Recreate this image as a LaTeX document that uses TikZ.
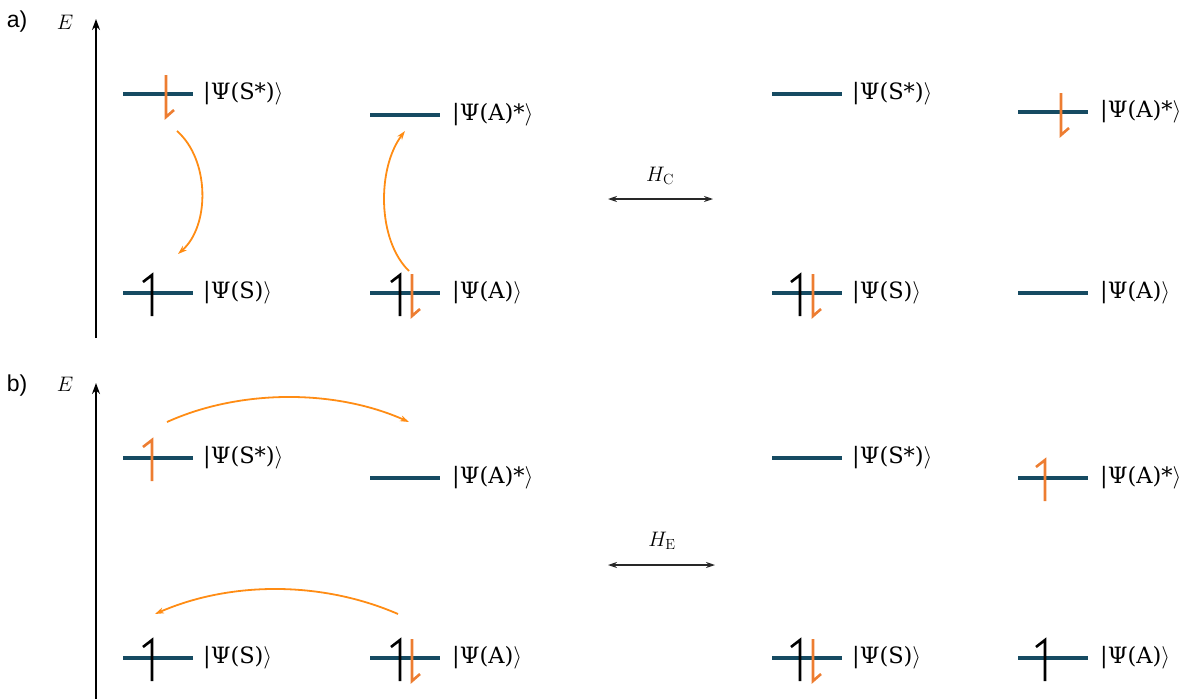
\RequirePackage{fix-cm}
\documentclass[tikz,border=0pt]{standalone}
\usepackage{fontspec}
\usetikzlibrary{arrows.meta}
\newfontfamily\sansf{Liberation Sans}
\newfontfamily\labf{DejaVu Serif}
\definecolor{lev}{RGB}{22,75,98}
\definecolor{spinor}{RGB}{237,125,49}
\definecolor{arcor}{RGB}{255,140,20}
\definecolor{harr}{RGB}{40,40,40}
\tikzset{
  levelline/.style={draw=lev, line width=3.6pt},
  lab/.style={anchor=west, inner sep=0pt, font=\labf\fontsize{22.5}{27}\selectfont},
  spinline/.style={line width=2.6pt, line join=miter, line cap=butt},
  axisline/.style={line width=1.8pt, -{Stealth[length=11pt,width=8pt]}},
  harrow/.style={draw=harr, line width=1.2pt, {Stealth[length=9pt,width=6pt]}-{Stealth[length=9pt,width=6pt]}},
  arcline/.style={draw=arcor, line width=1.8pt, -{Stealth[length=9pt,width=6pt]}},
  panel/.style={font=\sansf\fontsize{23}{27}\selectfont, inner sep=0pt},
  elab/.style={font=\fontsize{21}{25}\selectfont, inner sep=0pt},
  hlab/.style={font=\fontsize{21}{25}\selectfont, inner sep=0pt}
}
% spin half-arrows: x, y of level, colour
\newcommand\spinupp[3]{\draw[spinline,draw=#3] (#1,#2+23) -- (#1,#2-18) -- ++(-9,7);}
\newcommand\spindownn[3]{\draw[spinline,draw=#3] (#1,#2-19) -- (#1,#2+23) -- ++(8,-7);}
\newcommand\ket[1]{|#1$\rangle$}
\begin{document}
\begin{tikzpicture}[x=1pt,y=-1pt]
\useasboundingbox (0,0) rectangle (1187,699);

% ---------- panel a ----------
\node[panel] (pa) at (17,22) {a)};
\node[elab] (ea) at (65,22) {$E$};
\coordinate (axa0) at (96,338);
\coordinate (axa1) at (96,19);
\draw[axisline] (axa0) -- (axa1);

% levels a
\draw[levelline] (123,94) -- ++(70,0) coordinate (a1s);
\node[lab] (la1s) at (203,94) {\ket{Ψ(S*)}};
\draw[levelline] (123,293) -- ++(70,0) coordinate (a1g);
\node[lab] (la1g) at (203,293) {\ket{Ψ(S)}};
\draw[levelline] (370,115) -- ++(70,0) coordinate (a2s);
\node[lab] (la2s) at (452,115) {\ket{Ψ(A)*}};
\draw[levelline] (370,293) -- ++(70,0) coordinate (a2g);
\node[lab] (la2g) at (452,293) {\ket{Ψ(A)}};
\draw[levelline] (772,94) -- ++(70,0) coordinate (a3s);
\node[lab] (la3s) at (852,94) {\ket{Ψ(S*)}};
\draw[levelline] (772,293) -- ++(70,0) coordinate (a3g);
\node[lab] (la3g) at (852,293) {\ket{Ψ(S)}};
\draw[levelline] (1018,112) -- ++(70,0) coordinate (a4s);
\node[lab] (la4s) at (1100,112) {\ket{Ψ(A)*}};
\draw[levelline] (1018,293) -- ++(70,0) coordinate (a4g);
\node[lab] (la4g) at (1100,293) {\ket{Ψ(A)}};

% spins a
\spindownn{166}{94}{spinor}
\spinupp{152}{293}{black}
\spinupp{400}{293}{black}
\spindownn{412}{293}{spinor}
\spinupp{800}{293}{black}
\spindownn{813}{293}{spinor}
\spindownn{1061}{112}{spinor}

% arcs a
\coordinate (c1a) at (177,131);
\coordinate (c1b) at (178,254);
\draw[arcline] (c1a) .. controls (210,160) and (210,226) .. (c1b);
\coordinate (c2a) at (409,271);
\coordinate (c2b) at (405,131);
\draw[arcline] (c2a) .. controls (377,240) and (377,168) .. (c2b);

% H_C
\coordinate (hca) at (608,199);
\coordinate (hcb) at (713,199);
\draw[harrow] (hca) -- (hcb);
\node[hlab] (hc) at (660,176) {$H_{\mathrm{C}}$};

% ---------- panel b ----------
\node[panel] (pb) at (17,386) {b)};
\node[elab] (eb) at (65,384) {$E$};
\coordinate (axb0) at (96,699);
\coordinate (axb1) at (96,383);
\draw[axisline] (axb0) -- (axb1);

\draw[levelline] (123,458) -- ++(70,0) coordinate (b1s);
\node[lab] (lb1s) at (203,458) {\ket{Ψ(S*)}};
\draw[levelline] (123,658) -- ++(70,0) coordinate (b1g);
\node[lab] (lb1g) at (203,658) {\ket{Ψ(S)}};
\draw[levelline] (370,478) -- ++(70,0) coordinate (b2s);
\node[lab] (lb2s) at (452,478) {\ket{Ψ(A)*}};
\draw[levelline] (370,658) -- ++(70,0) coordinate (b2g);
\node[lab] (lb2g) at (452,658) {\ket{Ψ(A)}};
\draw[levelline] (772,458) -- ++(70,0) coordinate (b3s);
\node[lab] (lb3s) at (852,458) {\ket{Ψ(S*)}};
\draw[levelline] (772,658) -- ++(70,0) coordinate (b3g);
\node[lab] (lb3g) at (852,658) {\ket{Ψ(S)}};
\draw[levelline] (1018,478) -- ++(70,0) coordinate (b4s);
\node[lab] (lb4s) at (1100,478) {\ket{Ψ(A)*}};
\draw[levelline] (1018,658) -- ++(70,0) coordinate (b4g);
\node[lab] (lb4g) at (1100,658) {\ket{Ψ(A)}};

% spins b
\spinupp{152}{458}{spinor}
\spinupp{152}{658}{black}
\spinupp{400}{658}{black}
\spindownn{412}{658}{spinor}
\spinupp{800}{658}{black}
\spindownn{813}{658}{spinor}
\spinupp{1045}{478}{spinor}
\spinupp{1045}{658}{black}

% arcs b
\coordinate (d1a) at (167,422);
\coordinate (d1b) at (409,422);
\draw[arcline] (d1a) .. controls (240,389) and (335,389) .. (d1b);
\coordinate (d2a) at (398,614);
\coordinate (d2b) at (155,614);
\draw[arcline] (d2a) .. controls (322,581) and (231,581) .. (d2b);

% H_E
\coordinate (hea) at (608,565);
\coordinate (heb) at (715,565);
\draw[harrow] (hea) -- (heb);
\node[hlab] (he) at (662,541) {$H_{\mathrm{E}}$};
\end{tikzpicture}
\end{document}
